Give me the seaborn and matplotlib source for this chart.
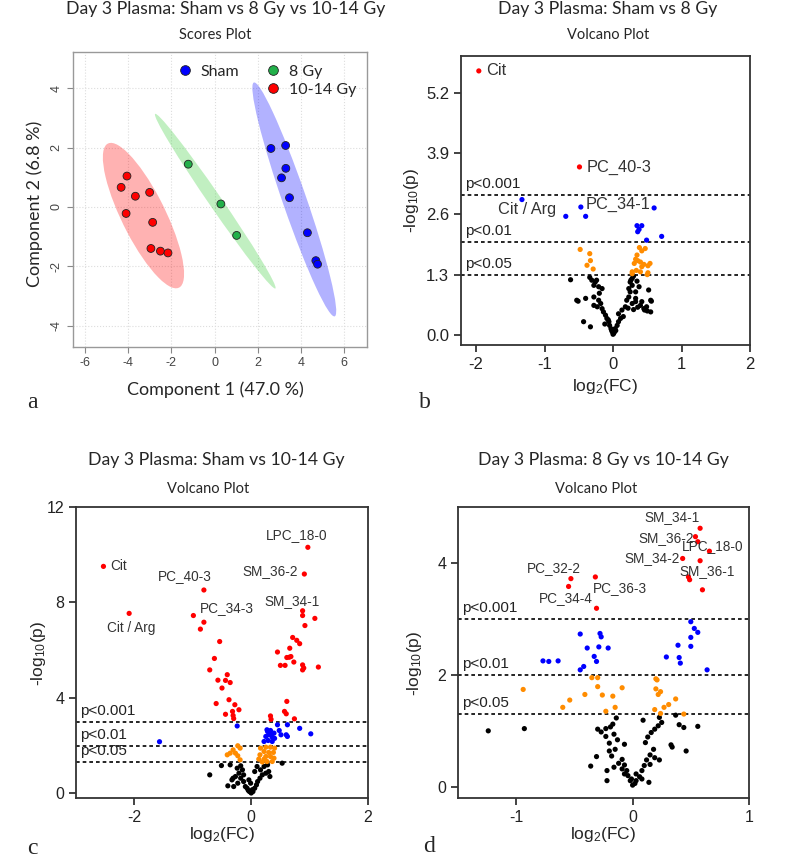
import numpy as np
import pandas as pd
import matplotlib
matplotlib.use("Agg")
import matplotlib.pyplot as plt
from matplotlib.patches import Ellipse
from matplotlib.lines import Line2D
import seaborn as sns

# ---------------- data ----------------
# (a) PLS-DA scores
sham_pc1 = [2.61, 3.29, 3.30, 3.10, 3.47, 4.30, 4.69, 4.77]
sham_pc2 = [1.97, 2.07, 1.30, 0.98, 0.31, -0.87, -1.81, -1.93]
gy8_pc1 = [-1.22, 0.29, 1.02]
gy8_pc2 = [1.44, 0.10, -0.96]
gy1014_pc1 = [-4.06, -4.33, -3.67, -3.01, -4.10, -2.87, -2.95, -2.51, -2.16]
gy1014_pc2 = [1.04, 0.66, 0.36, 0.49, -0.22, -0.52, -1.40, -1.49, -1.55]

# (b) Sham vs 8 Gy  -> (log2FC, -log10 p)
b_red = [(-1.96, 5.67), (-0.49, 3.61)]
b_blue = [(-1.33, 2.91), (-0.47, 2.75), (-0.69, 2.55), (-0.40, 2.55), (0.60, 2.73),
          (0.35, 2.35), (0.42, 2.35), (0.38, 2.27), (0.36, 2.22), (0.49, 2.04), (0.71, 2.12)]
b_orange = [(-0.48, 1.84), (-0.34, 1.75), (-0.33, 1.60), (-0.38, 1.50), (-0.29, 1.42),
            (0.385, 1.88), (0.42, 1.81), (0.47, 1.86), (0.35, 1.72), (0.33, 1.63),
            (0.36, 1.60), (0.40, 1.57), (0.31, 1.54), (0.45, 1.52), (0.54, 1.54),
            (0.28, 1.36), (0.40, 1.36), (0.51, 1.34), (0.34, 1.39), (0.42, 1.47),
            (0.51, 1.49), (0.50, 1.30), (0.28, 1.32)]
b_black = [(-0.62, 1.19), (-0.34, 1.24), (-0.31, 1.18), (-0.26, 1.14), (-0.28, 1.07),
           (-0.21, 1.04), (-0.16, 1.00), (-0.53, 0.75), (-0.51, 0.73), (-0.40, 0.79),
           (-0.28, 0.82), (-0.21, 0.75), (-0.18, 0.68), (-0.28, 0.64), (-0.23, 0.61),
           (-0.16, 0.57), (-0.14, 0.50), (-0.11, 0.43), (-0.09, 0.36), (-0.06, 0.29),
           (-0.05, 0.21), (-0.03, 0.14), (-0.01, 0.07), (0.00, 0.02), (0.01, 0.04),
           (0.02, 0.07), (0.03, 0.14), (0.06, 0.21), (0.08, 0.29), (0.11, 0.36),
           (0.08, 0.46), (0.13, 0.54), (0.18, 0.61), (0.20, 0.75), (0.28, 0.68),
           (0.33, 0.72), (0.23, 0.82), (0.33, 0.79), (0.40, 0.64), (0.45, 0.57),
           (0.49, 0.61), (0.55, 0.75), (0.52, 0.97), (0.56, 0.73), (0.55, 0.50),
           (0.38, 1.04), (0.28, 1.07), (0.25, 1.14), (0.28, 1.22), (0.30, 1.27),
           (0.23, 1.00), (0.25, 0.93), (0.33, 0.93), (-0.43, 0.29), (-0.33, 0.18),
           (-0.07, 0.33), (-0.12, 0.24), (0.04, 0.10), (-0.02, 0.10), (0.15, 0.40),
           (0.22, 0.58), (0.30, 0.55), (0.36, 0.60), (0.42, 0.72), (-0.24, 1.18),
           (-0.20, 0.90), (0.26, 1.18), (0.35, 1.16), (0.46, 0.54), (0.50, 0.52)]

# (c) Sham vs 10-14 Gy
c_red = [(-2.53, 9.51), (-2.09, 7.54), (-0.81, 8.52), (-0.81, 7.17), (0.97, 10.31),
         (0.91, 9.19), (0.88, 7.65), (0.88, 7.45), (1.09, 7.33), (0.92, 7.03),
         (-0.99, 7.45), (-0.87, 6.88), (-0.54, 6.36), (-0.63, 5.65), (-0.71, 5.17),
         (-0.41, 4.97), (-0.57, 4.74), (-0.44, 4.73), (-0.36, 4.64), (-0.50, 4.41),
         (-0.38, 3.92), (-0.60, 3.76), (-0.28, 3.71), (-0.21, 3.50), (-0.44, 3.31),
         (-0.32, 3.43), (-0.31, 3.26), (-0.30, 3.13), (0.71, 6.53), (0.78, 6.41),
         (0.83, 6.27), (0.66, 6.08), (0.45, 5.92), (0.61, 5.69), (0.68, 5.73),
         (0.73, 5.50), (0.50, 5.36), (0.58, 5.36), (0.88, 5.38), (0.88, 5.17),
         (1.15, 5.29), (0.61, 3.85), (0.57, 3.43), (0.60, 3.33), (0.74, 3.12),
         (0.33, 3.24), (0.34, 3.10), (0.65, 5.70), (0.90, 5.25)]
c_blue = [(-0.24, 2.82), (-1.57, 2.16), (0.45, 2.87), (0.62, 2.87), (0.83, 2.72),
          (1.02, 2.49), (0.60, 2.45), (0.62, 2.38), (0.28, 2.59), (0.33, 2.63),
          (0.39, 2.52), (0.30, 2.45), (0.25, 2.38), (0.36, 2.35), (0.48, 2.63),
          (0.51, 2.45), (0.22, 2.17), (0.29, 2.21), (0.36, 2.17), (0.32, 2.50),
          (0.27, 2.66), (0.40, 2.30)]
c_orange = [(-0.41, 1.61), (-0.31, 1.82), (-0.23, 1.99), (-0.19, 1.89), (-0.27, 1.68),
            (-0.23, 1.57), (-0.19, 1.40), (-0.36, 1.68), (0.16, 1.89), (0.25, 1.93),
            (0.33, 1.93), (0.40, 1.89), (0.22, 1.75), (0.30, 1.71), (0.38, 1.71),
            (0.15, 1.61), (0.25, 1.54), (0.33, 1.54), (0.13, 1.43), (0.22, 1.43),
            (0.39, 1.47), (0.27, 1.33), (0.36, 1.33), (0.19, 1.31)]
c_black = [(-0.71, 0.77), (-0.51, 1.16), (-0.36, 1.19), (0.53, 1.26), (-0.18, 1.15),
           (-0.15, 0.98), (-0.21, 0.84), (-0.13, 0.77), (-0.27, 0.70), (-0.18, 0.63),
           (-0.30, 0.28), (-0.23, 0.42), (-0.13, 0.49), (-0.10, 0.28), (-0.07, 0.21),
           (-0.03, 0.07), (0.00, 0.01), (0.03, 0.07), (0.06, 0.21), (0.09, 0.35),
           (0.11, 0.49), (0.15, 0.63), (0.19, 0.77), (0.16, 0.98), (0.22, 1.12),
           (0.28, 1.19), (0.30, 0.91), (0.32, 0.70), (0.10, 1.12), (-0.24, 1.05),
           (-0.33, 0.56), (-0.40, 0.31), (-0.01, 0.42), (-0.04, 0.56), (0.25, 0.84),
           (0.06, 0.91), (-0.31, 0.63), (0.02, 0.15), (-0.05, 0.12)]

# (d) 8 Gy vs 10-14 Gy
d_red = [(0.58, 4.62), (0.54, 4.47), (0.66, 4.21), (0.43, 4.08), (0.48, 3.75),
         (-0.53, 3.72), (-0.55, 3.58), (-0.32, 3.75), (0.56, 4.38), (0.58, 4.04),
         (0.49, 3.70), (0.60, 3.52), (-0.31, 3.19)]
d_blue = [(-0.45, 2.73), (-0.28, 2.74), (-0.27, 2.68), (-0.39, 2.48), (-0.29, 2.50),
          (-0.21, 2.48), (-0.33, 2.33), (-0.31, 2.24), (-0.77, 2.25), (-0.72, 2.24),
          (-0.64, 2.25), (-0.42, 2.15), (-0.45, 2.09), (0.50, 2.95), (0.53, 2.83),
          (0.56, 2.76), (0.50, 2.67), (0.50, 2.51), (0.39, 2.53), (0.29, 2.32),
          (0.40, 2.31), (0.41, 2.21), (0.64, 2.09)]
d_orange = [(-0.94, 1.74), (-0.54, 1.55), (-0.60, 1.42), (-0.41, 1.65), (-0.35, 1.95),
            (-0.30, 1.95), (-0.30, 1.79), (-0.26, 1.64), (-0.17, 1.62), (-0.09, 1.77),
            (-0.15, 1.42), (-0.23, 1.35), (0.20, 1.93), (0.21, 1.91), (0.20, 1.75),
            (0.24, 1.70), (0.22, 1.65), (0.37, 1.57), (0.31, 1.47), (0.27, 1.42),
            (0.19, 1.38), (0.24, 1.31), (0.44, 1.30)]
d_black = [(-1.24, 1.00), (-0.93, 1.04), (-0.30, 1.03), (-0.23, 1.04), (-0.19, 1.07),
           (-0.17, 1.12), (-0.14, 1.23), (-0.27, 0.98), (-0.23, 0.90), (-0.16, 0.94),
           (-0.20, 0.78), (-0.13, 0.84), (-0.07, 0.76), (-0.15, 0.67), (-0.20, 0.64),
           (-0.18, 0.55), (-0.31, 0.54), (-0.36, 0.37), (-0.22, 0.29), (-0.22, 0.11),
           (-0.16, 0.35), (-0.12, 0.42), (-0.09, 0.49), (-0.07, 0.39), (-0.05, 0.29),
           (-0.04, 0.20), (-0.02, 0.11), (0.00, 0.03), (0.02, 0.06), (0.03, 0.11),
           (0.06, 0.18), (0.08, 0.29), (0.10, 0.38), (0.12, 0.48), (0.15, 0.57),
           (0.18, 0.67), (0.11, 0.79), (0.13, 0.89), (0.16, 0.97), (0.19, 1.03),
           (0.22, 1.09), (0.25, 1.15), (0.09, 1.19), (0.23, 1.24), (0.37, 1.28),
           (0.40, 1.11), (0.44, 1.06), (0.56, 1.08), (0.33, 0.75), (0.34, 0.71),
           (0.46, 0.64), (0.14, 0.08), (0.08, 0.14), (0.03, 0.23), (-0.01, 0.14),
           (-0.07, 0.23), (-0.09, 0.32), (0.15, 0.40), (0.19, 0.52), (0.23, 0.48)]

P_LINES = [3.0, 2.0, 1.3]
P_TEXT = ["p<0.001", "p<0.01", "p<0.05"]
SIG_COLORS = {"ns": "black", "p05": "#FF8C00", "p01": "#0000FF", "p001": "#FF0000"}

# ---------------- style ----------------
sns.set_style("ticks")
plt.rcParams["font.family"] = ["Liberation Sans", "DejaVu Sans"]
plt.rcParams["mathtext.fontset"] = "custom"
plt.rcParams["mathtext.rm"] = "Liberation Sans"
plt.rcParams["mathtext.default"] = "regular"
plt.rcParams["axes.unicode_minus"] = False

W, H = 800, 865
fig = plt.figure(figsize=(W / 100, H / 100), dpi=100)


def px_axes(l, t, r, b):
    return fig.add_axes([l / W, 1 - b / H, (r - l) / W, (b - t) / H])


def ftext(x, y, s, **kw):
    fig.text(x / W, 1 - y / H, s, ha="center", va="center", **kw)


def conf_ellipse(ax, xs, ys, color):
    cov = np.cov(xs, ys)
    vals, vecs = np.linalg.eigh(cov)
    k = np.sqrt(5.991)
    angle = np.degrees(np.arctan2(vecs[1, 1], vecs[0, 1]))
    e = Ellipse((np.mean(xs), np.mean(ys)), 2 * k * np.sqrt(vals[1]), 2 * k * np.sqrt(vals[0]),
                angle=angle, facecolor=color, alpha=0.3, edgecolor="none", zorder=1)
    ax.add_patch(e)


# ---------------- (a) scores plot ----------------
ax = px_axes(73, 52, 367, 347)
score_groups = [("Sham", sham_pc1, sham_pc2, "#0000FF"),
                ("8 Gy", gy8_pc1, gy8_pc2, "#22B04A"),
                ("10-14 Gy", gy1014_pc1, gy1014_pc2, "#FF0000")]
rows = []
for name, xs, ys, col in score_groups:
    conf_ellipse(ax, xs, ys, col if name != "8 Gy" else "#33CC33")
    rows += [{"pc1": x, "pc2": y, "group": name} for x, y in zip(xs, ys)]
scores = pd.DataFrame(rows)
sns.scatterplot(data=scores, x="pc1", y="pc2", hue="group",
                palette={g[0]: g[3] for g in score_groups}, s=32,
                edgecolor="#222222", linewidth=0.6, legend=False, ax=ax, zorder=3)
ax.set_xlim(-6.56, 7.06)
ax.set_ylim(-4.72, 5.22)
ax.set_xticks(range(-6, 7, 2))
ax.set_yticks(range(-4, 5, 2))
ax.grid(True, ls=":", color="#dddddd", lw=0.8)
ax.set_axisbelow(True)
for s in ax.spines.values():
    s.set_color("#999999")
    s.set_linewidth(1)
ax.tick_params(colors="#888888", labelcolor="#444444", labelsize=9, length=4)
plt.setp(ax.get_yticklabels(), rotation=90, va="center")
ax.set_xlabel("Component 1 (47.0 %)", fontfamily="Lato", fontsize=13, va="center")
ax.set_ylabel("Component 2 (6.8 %)", fontfamily="Lato", fontsize=13, va="center")
ax.xaxis.set_label_coords(0.483, -0.146)
ax.yaxis.set_label_coords(-0.129, 0.485)
handles = [Line2D([], [], ls="", marker="o", ms=7, mfc="#0000FF", mec="#222222", mew=0.6),
           Line2D([], [], ls="", marker=""),
           Line2D([], [], ls="", marker="o", ms=7, mfc="#22B04A", mec="#222222", mew=0.6),
           Line2D([], [], ls="", marker="o", ms=7, mfc="#FF0000", mec="#222222", mew=0.6)]
ax.legend(handles, ["Sham", "", "8 Gy", "10-14 Gy"], ncol=2, loc="upper left",
          bbox_to_anchor=(0.326, 0.985), frameon=False, handlelength=1.0,
          handletextpad=0.5, columnspacing=1.6, labelspacing=0.25, borderpad=0,
          prop={"family": "Lato", "size": 11.5})


# ---------------- volcano plots ----------------
def volcano(ax, red, blue, orange, black, labels, lab_size, p_size, tick_size):
    frames = []
    for sig, pts in (("ns", black), ("p05", orange), ("p01", blue), ("p001", red)):
        arr = np.array(pts)
        frames.append(pd.DataFrame({"log2fc": arr[:, 0], "nlog10p": arr[:, 1], "sig": sig}))
    df = pd.concat(frames, ignore_index=True)
    sns.scatterplot(data=df, x="log2fc", y="nlog10p", hue="sig", palette=SIG_COLORS,
                    s=14, linewidth=0, legend=False, ax=ax, zorder=3)
    for thr, txt in zip(P_LINES, P_TEXT):
        ax.axhline(thr, color="black", ls=(0, (2.2, 1.8)), lw=1.2, zorder=2)
        ax.annotate(txt, xy=(0.015, thr), xycoords=("axes fraction", "data"),
                    xytext=(0, 4), textcoords="offset pixels", ha="left", va="bottom",
                    fontsize=p_size, color="#222222")
    for txt, pts, i, dx, dy, ha in labels:
        ax.annotate(txt, xy=pts[i], xytext=(dx, dy), textcoords="offset pixels",
                    ha=ha, va="center", fontsize=lab_size, color="#333333", zorder=4)
    for s in ax.spines.values():
        s.set_color("#333333")
        s.set_linewidth(1.3)
    ax.tick_params(direction="out", length=5, width=1.2, labelsize=tick_size, colors="#222222")
    ax.set_xlabel(r"log$_2$(FC)", fontsize=12.5, va="center")
    ax.set_ylabel(r"-log$_{10}$(p)", fontsize=12.5, va="center")


# (b)
ax = px_axes(461, 56, 750, 345)
volcano(ax, b_red, b_blue, b_orange, b_black,
        [("Cit", b_red, 0, 7, 0, "left"), ("PC_40-3", b_red, 1, 7, 0, "left"),
         ("PC_34-1", b_blue, 1, 5, 3, "left"), ("Cit / Arg", b_blue, 0, 5, -10, "center")],
        lab_size=11.8, p_size=11, tick_size=12)
ax.set_xlim(-2.22, 2.0)
ax.set_ylim(-0.21, 5.99)
ax.set_xticks([-2, -1, 0, 1, 2])
ax.set_yticks([0.0, 1.3, 2.6, 3.9, 5.2])
ax.set_yticklabels(["0.0", "1.3", "2.6", "3.9", "5.2"])
ax.xaxis.set_label_coords(0.498, -0.145)
ax.yaxis.set_label_coords(-0.17, 0.502)

# (c)
ax = px_axes(76, 507, 368, 798)
volcano(ax, c_red, c_blue, c_orange, c_black,
        [("Cit", c_red, 0, 7, 0, "left"), ("Cit / Arg", c_red, 1, 2, -15, "center"),
         ("PC_40-3", c_red, 2, -19, 14, "center"), ("PC_34-3", c_red, 3, 23, 14, "center"),
         ("LPC_18-0", c_red, 4, -11, 12, "center"), ("SM_36-2", c_red, 5, -7, 3, "right"),
         ("SM_34-1", c_red, 6, -11, 10, "center")],
        lab_size=9.8, p_size=11, tick_size=11.5)
ax.set_xlim(-3.0, 2.0)
ax.set_ylim(-0.2, 12)
ax.set_xticks([-2, 0, 2])
ax.set_yticks([0, 4, 8, 12])
ax.xaxis.set_label_coords(0.5, -0.127)
ax.yaxis.set_label_coords(-0.13, 0.498)

# (d)
ax = px_axes(458, 507, 749, 798)
volcano(ax, d_red, d_blue, d_orange, d_black,
        [("SM_34-1", d_red, 0, -28, 11, "center"), ("SM_36-2", d_red, 1, -2, -1, "right"),
         ("LPC_18-0", d_red, 2, 3, 5, "center"), ("SM_34-2", d_red, 3, -3, 0, "right"),
         ("SM_36-1", d_red, 4, 19, 6, "center"), ("PC_32-2", d_red, 5, -17, 11, "center"),
         ("PC_34-4", d_red, 6, -3, -12, "center"), ("PC_36-3", d_red, 7, 25, -11, "center")],
        lab_size=9.8, p_size=11, tick_size=11.5)
ax.set_xlim(-1.5, 1.0)
ax.set_ylim(-0.2, 5.0)
ax.set_xticks([-1, 0, 1])
ax.set_yticks([0, 2, 4])
ax.xaxis.set_label_coords(0.498, -0.127)
ax.yaxis.set_label_coords(-0.148, 0.464)

# ---------------- titles & panel letters ----------------
ttl = dict(fontfamily="Lato", fontsize=12.7)
sub = dict(fontfamily="Lato", fontsize=10.5)
ftext(226, 9, "Day 3 Plasma: Sham vs 8 Gy vs 10-14 Gy", **ttl)
ftext(215, 35, "Scores Plot", **sub)
ftext(608, 9, "Day 3 Plasma: Sham vs 8 Gy", **ttl)
ftext(608, 35, "Volcano Plot", **sub)
ftext(216, 460, "Day 3 Plasma: Sham vs 10-14 Gy", **ttl)
ftext(208, 489, "Volcano Plot", **sub)
ftext(603, 460, "Day 3 Plasma: 8 Gy vs 10-14 Gy", **ttl)
ftext(596, 489, "Volcano Plot", **sub)
letter = dict(fontfamily="Liberation Serif", fontsize=17)
ftext(32, 403, "a", **letter)
ftext(425, 403, "b", **letter)
ftext(32, 848, "c", **letter)
ftext(429, 847, "d", **letter)

fig.savefig("out.png", dpi=100)
